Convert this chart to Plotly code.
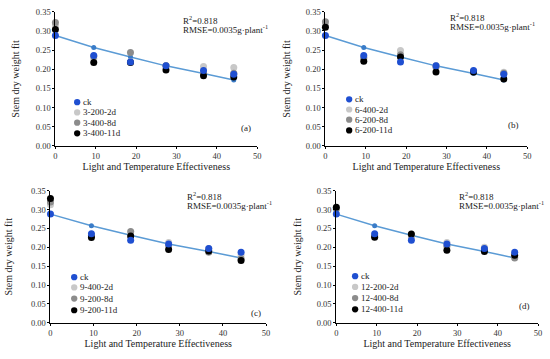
import plotly.graph_objects as go

W, H = 550, 359

# ---------------- data ----------------
lte = [0, 9.5, 18.6, 27.4, 36.7, 44.2]
fit_values = [0.288, 0.257, 0.232, 0.209, 0.189, 0.172]
ck_values = [0.288, 0.236, 0.219, 0.209, 0.197, 0.187]

panel_labels = ["(a)", "(b)", "(c)", "(d)"]
series_names = [
    ["3-200-2d", "3-400-8d", "3-400-11d"],
    ["6-400-2d", "6-200-8d", "6-200-11d"],
    ["9-400-2d", "9-200-8d", "9-200-11d"],
    ["12-200-2d", "12-400-8d", "12-400-11d"],
]
a_light = [0.313, 0.228, 0.220, 0.210, 0.207, 0.205]
a_gray = [0.322, 0.234, 0.244, 0.209, 0.190, 0.190]
a_black = [0.304, 0.218, 0.218, 0.198, 0.183, 0.180]

b_light = [0.315, 0.228, 0.249, 0.210, 0.195, 0.192]
b_gray = [0.324, 0.230, 0.238, 0.206, 0.193, 0.190]
b_black = [0.310, 0.221, 0.232, 0.193, 0.193, 0.175]

c_light = [0.313, 0.230, 0.230, 0.213, 0.197, 0.180]
c_gray = [0.320, 0.232, 0.242, 0.205, 0.187, 0.170]
c_black = [0.329, 0.226, 0.230, 0.194, 0.190, 0.165]

d_light = [0.300, 0.232, 0.225, 0.213, 0.200, 0.175]
d_gray = [0.303, 0.230, 0.232, 0.203, 0.195, 0.172]
d_black = [0.306, 0.227, 0.235, 0.192, 0.189, 0.179]

panel_series = [
    [a_light, a_gray, a_black],
    [b_light, b_gray, b_black],
    [c_light, c_gray, c_black],
    [d_light, d_gray, d_black],
]

x_ticks = [0, 10, 20, 30, 40, 50]
y_ticks = [0.0, 0.05, 0.10, 0.15, 0.20, 0.25, 0.30, 0.35]
y_tick_text = ["0.00", "0.05", "0.10", "0.15", "0.20", "0.25", "0.30", "0.35"]
x_title = "Light and Temperature Effectiveness"
y_title = "Stem dry weight fit"

# ---------------- layout geometry (pixels) ----------------
def px(x):
    return x / W

def py(y):
    return 1 - y / H

# (x0, x1, ytop, ybottom) for axis ranges [0,50] x [0,0.35]
boxes = [
    (54, 258, 7, 145),
    (327, 531, 7, 145),
    (49, 267, 191, 327),
    (338, 542, 191, 327),
]
legend_pos = [
    (76, [100, 110.5, 121, 132]),
    (351, [97, 107.5, 118, 129]),
    (73, [280, 290.5, 302, 314]),
    (357, [279, 290, 301.5, 313]),
]
rmse_pos = [(181, 15), (451, 12), (185, 196), (460, 196)]
label_pos = [(247, 127), (517, 123), (257, 317), (528, 310)]
x_standoff = [2, 2, 2, 2]
y_standoff = [14, 13, 16, 13]

colors = ["#c8c8c8", "#8c8c8c", "#000000"]
ck_color = "#1f4fd1"
fit_color = "#5b9bd5"
FONT = "Liberation Serif, Times New Roman, serif"

fig = go.Figure()
annotations = []
shapes = []

for i in range(4):
    xa = "x" if i == 0 else f"x{i+1}"
    ya = "y" if i == 0 else f"y{i+1}"
    # fit line
    fig.add_trace(go.Scatter(
        x=lte, y=fit_values, mode="lines+markers", xaxis=xa, yaxis=ya,
        line=dict(color=fit_color, width=1.5),
        marker=dict(color="#3a7cc8", size=5), showlegend=False, cliponaxis=False))
    for s, vals in enumerate(panel_series[i]):
        fig.add_trace(go.Scatter(
            x=lte, y=vals, mode="markers", xaxis=xa, yaxis=ya,
            marker=dict(color=colors[s], size=7), name=series_names[i][s],
            showlegend=False, cliponaxis=False))
    fig.add_trace(go.Scatter(
        x=lte, y=ck_values, mode="markers", xaxis=xa, yaxis=ya,
        marker=dict(color=ck_color, size=7), name="ck",
        showlegend=False, cliponaxis=False))

    x0, x1, yt, yb = boxes[i]
    axis_common = dict(showline=True, linecolor="#000", linewidth=1,
                       ticks="outside", ticklen=2, tickcolor="#000",
                       showgrid=False, zeroline=False,
                       tickfont=dict(family=FONT, size=8.5, color="#333"))
    fig.layout[("xaxis" if i == 0 else f"xaxis{i+1}")] = dict(
        domain=[px(x0), px(x1)], range=[0, 50], tickvals=x_ticks,
        anchor=ya,
        title=dict(text=x_title, standoff=x_standoff[i],
                   font=dict(size=10, color="#222", family=FONT)),
        **axis_common)
    fig.layout[("yaxis" if i == 0 else f"yaxis{i+1}")] = dict(
        domain=[py(yb), py(yt)], range=[0, 0.35], tickvals=y_ticks,
        ticktext=y_tick_text, anchor=xa,
        title=dict(text=y_title, standoff=y_standoff[i],
                   font=dict(size=10, color="#222", family=FONT)),
        **axis_common)

    # legend (manual)
    lx, lys = legend_pos[i]
    names = ["ck"] + series_names[i]
    cols = [ck_color] + colors
    r = 3.2
    for n, c, ly in zip(names, cols, lys):
        shapes.append(dict(type="circle", xref="paper", yref="paper",
                           x0=px(lx - r), x1=px(lx + r), y0=py(ly + r), y1=py(ly - r),
                           fillcolor=c, line=dict(width=0)))
        annotations.append(dict(x=px(lx + 4), y=py(ly), xref="paper", yref="paper",
                                text=n, showarrow=False, xanchor="left", yanchor="middle",
                                font=dict(size=9, color="#222", family=FONT)))
    rx, ry = rmse_pos[i]
    annotations.append(dict(x=px(rx), y=py(ry), xref="paper", yref="paper",
                            text="R<sup>2</sup>=0.818",
                            showarrow=False, xanchor="left", yanchor="middle",
                            font=dict(size=9, color="#222", family=FONT)))
    annotations.append(dict(x=px(rx), y=py(ry + 9.5), xref="paper", yref="paper",
                            text="RMSE=0.0035g·plant<sup>-1</sup>",
                            showarrow=False, xanchor="left", yanchor="middle",
                            font=dict(size=9, color="#222", family=FONT)))
    lx2, ly2 = label_pos[i]
    annotations.append(dict(x=px(lx2), y=py(ly2), xref="paper", yref="paper",
                            text=panel_labels[i], showarrow=False, xanchor="center", yanchor="middle",
                            font=dict(size=9, color="#222", family=FONT)))

fig.update_layout(width=W, height=H, margin=dict(l=0, r=0, t=0, b=0),
                  paper_bgcolor="white", plot_bgcolor="white",
                  annotations=annotations, shapes=shapes, showlegend=False)

fig.write_html("out.html", config={"displayModeBar": False},
               post_script="document.body.style.margin='0';")
